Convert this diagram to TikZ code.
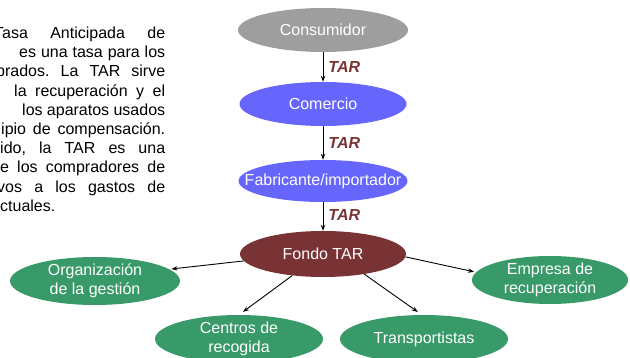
\documentclass[tikz,border=0pt]{standalone}
\usepackage{fontspec}
\setmainfont{Liberation Sans}
\usetikzlibrary{shapes.geometric,arrows.meta}
\definecolor{consgray}{RGB}{158,158,158}
\definecolor{blueell}{RGB}{102,102,252}
\definecolor{fondored}{RGB}{122,51,52}
\definecolor{greenell}{RGB}{56,154,105}
\definecolor{tarred}{RGB}{122,51,52}
\begin{document}
\begin{tikzpicture}[x=1pt,y=-1pt,
  ell/.style={ellipse,inner xsep=-22pt,inner ysep=-5pt,text=white,font=\fontsize{16}{19}\selectfont,align=center},
  arr/.style={-{Stealth[length=6pt,width=4.5pt]},line width=0.9pt},
  tarlbl/.style={anchor=west,inner sep=0pt,text=tarred,font=\fontsize{16}{19}\selectfont\bfseries\itshape},
  para/.style={anchor=base west,inner sep=0pt,font=\fontsize{16}{19}\selectfont}]
\useasboundingbox (0,0) rectangle (630,358);

% left paragraph (cut at the left edge)
\begin{scope}
\clip (0,0) rectangle (200,358);
\node[para] (l1) at (-6,38.5) {\hbox to 171pt{Tasa\hfill Anticipada\hfill de}};
\node[para] (l2) at (19,57.7) {\hbox to 146pt{es\hfill una\hfill tasa\hfill para\hfill los}};
\node[para] (l3) at (-4,76.9) {\hbox to 169pt{prados.\hfill La\hfill TAR\hfill sirve}};
\node[para] (l4) at (14,96.1) {\hbox to 151pt{la\hfill recuperación\hfill y\hfill el}};
\node[para] (l5) at (22,115.3) {\hbox to 143pt{los\hfill aparatos\hfill usados}};
\node[para] (l6) at (1,134.5) {\hbox to 164pt{ipio\hfill de\hfill compensación.}};
\node[para] (l7) at (0,153.7) {\hbox to 165pt{ido,\hfill la\hfill TAR\hfill es\hfill una}};
\node[para] (l8) at (0,172.9) {\hbox to 165pt{e\hfill los\hfill compradores\hfill de}};
\node[para] (l9) at (-3,192.1) {\hbox to 168pt{vos\hfill a\hfill los\hfill gastos\hfill de}};
\node[para] (l10) at (0,211.3) {ctuales.};
\end{scope}

% chain
\node[ell,fill=consgray,minimum width=170pt,minimum height=44pt] (cons) at (323,30) {Consumidor};
\node[ell,fill=blueell,minimum width=167pt,minimum height=44pt] (com) at (323,104) {Comercio};
\node[ell,fill=blueell,minimum width=169pt,minimum height=42pt] (fab) at (323,181) {Fabricante/importador};
\node[ell,fill=fondored,minimum width=166pt,minimum height=46pt] (fondo) at (323,254) {Fondo TAR};

\node[ell,fill=greenell,minimum width=170pt,minimum height=48pt] (org) at (95,281) {Organización\\de la gestión};
\node[ell,fill=greenell,minimum width=156pt,minimum height=48pt] (emp) at (550,280) {Empresa de\\recuperación};
\node[ell,fill=greenell,minimum width=168pt,minimum height=48pt] (cen) at (239,339) {Centros de\\recogida};
\node[ell,fill=greenell,minimum width=168pt,minimum height=48pt] (tra) at (424,339) {Transportistas};

\draw[arr] (cons) -- (com) node[tarlbl,pos=0.5,xshift=5pt] (t1) {TAR};
\draw[arr] (com) -- (fab) node[tarlbl,pos=0.5,xshift=5pt] (t2) {TAR};
\draw[arr] (fab) -- (fondo) node[tarlbl,pos=0.45,xshift=5pt] (t3) {TAR};

\draw[arr,shorten >=2pt] (fondo.185) -- (org.9);
\draw[arr,shorten >=5pt] (fondo.215) -- (cen.north);
\draw[arr,shorten >=5pt] (fondo.334) -- (tra.95);
\draw[arr,shorten >=2pt] (fondo.358) -- (emp.174);
\end{tikzpicture}
\end{document}
